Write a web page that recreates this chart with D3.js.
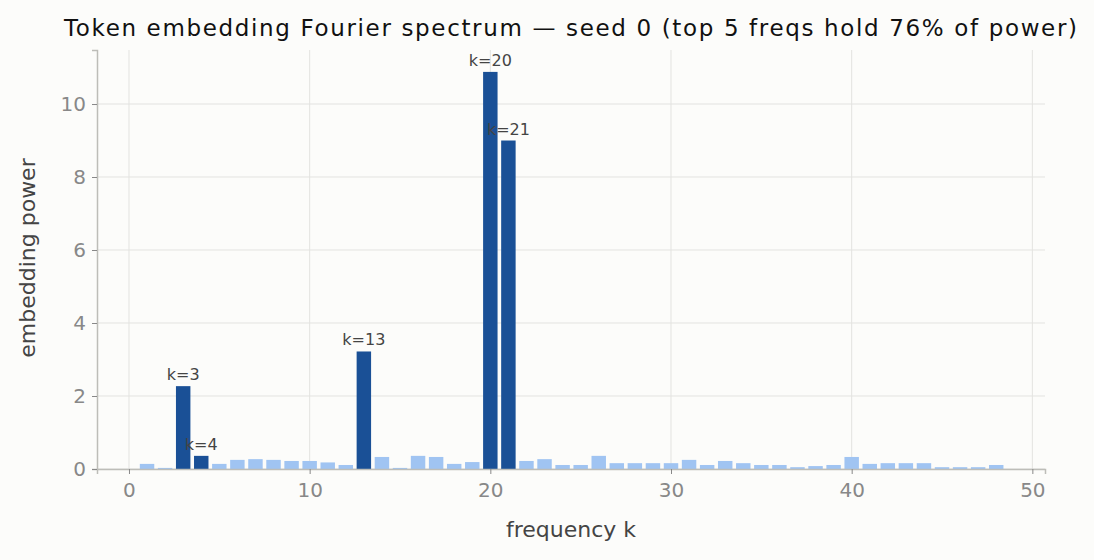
<!DOCTYPE html>
<html><head><meta charset="utf-8">
<script src="https://cdn.jsdelivr.net/npm/d3@7"></script>
<style>body{margin:0;background:#fcfcfa;font-family:"DejaVu Sans",sans-serif}</style>
</head><body><svg id="c" width="1094" height="560"></svg>
<script>
var freqs = d3.range(0, 50)
var power = [0, 0.14, 0.03, 2.27, 0.36, 0.14, 0.25, 0.27, 0.25, 0.22,
  0.22, 0.18, 0.11, 3.22, 0.33, 0.03, 0.36, 0.33, 0.14, 0.19,
  10.88, 9.0, 0.22, 0.27, 0.11, 0.11, 0.36, 0.16, 0.16, 0.16,
  0.16, 0.25, 0.11, 0.22, 0.16, 0.11, 0.11, 0.05, 0.08, 0.11,
  0.33, 0.14, 0.16, 0.16, 0.16, 0.05, 0.05, 0.05, 0.11, 0]
var topK = [20, 21, 13, 3, 4]
var xTicks = [0, 10, 20, 30, 40, 50]
var yTicks = [0, 2, 4, 6, 8, 10]

var svg = d3.select('#c')
var x = d3.scaleLinear().domain([-1.77, 50.7]).range([97, 1045])
var y = d3.scaleLinear().domain([0, 11.48]).range([469, 50])
var bw = x(0.8) - x(0)

// grid
svg.append('g').selectAll('line').data(xTicks).enter().append('line')
  .attr('x1', d => x(d)).attr('x2', d => x(d)).attr('y1', 50).attr('y2', 469)
  .attr('stroke', '#e3e3e0')
svg.append('g').selectAll('line').data(yTicks).enter().append('line')
  .attr('x1', 97).attr('x2', 1045).attr('y1', d => y(d)).attr('y2', d => y(d))
  .attr('stroke', '#e3e3e0')

svg.append('g').selectAll('rect').data(freqs).enter().append('rect')
  .attr('x', d => x(d) - bw / 2).attr('width', bw)
  .attr('y', d => y(power[d])).attr('height', d => y(0) - y(power[d]))
  .attr('fill', d => topK.includes(d) ? '#1a5096' : '#a0c4f2')

svg.append('g').selectAll('text').data(topK).enter().append('text')
  .attr('x', d => x(d)).attr('y', d => y(power[d]) - 6)
  .attr('text-anchor', 'middle').attr('font-size', 16).attr('fill', '#444')
  .text(d => 'k=' + d)

// axes
var xa = svg.append('g').attr('transform', 'translate(0,469)')
  .call(d3.axisBottom(x).tickValues(xTicks).tickSize(5).tickPadding(6))
var ya = svg.append('g').attr('transform', 'translate(97,0)')
  .call(d3.axisLeft(y).tickValues(yTicks).tickSize(5).tickPadding(6))
;[xa, ya].forEach(a => {
  a.select('.domain').attr('stroke', '#bdbdb8').attr('stroke-width', 1.5)
  a.selectAll('.tick line').attr('stroke', '#888')
  a.selectAll('.tick text').attr('font-size', 20).attr('fill', '#888').attr('font-family', 'DejaVu Sans')
})
xa.selectAll('.tick text').attr('dy', '0.85em')

svg.append('text').attr('x', 571).attr('y', 537).attr('text-anchor', 'middle')
  .attr('font-size', 22).attr('fill', '#444').text('frequency k')
svg.append('text').attr('transform', 'translate(35,258) rotate(-90)').attr('text-anchor', 'middle')
  .attr('font-size', 22).attr('fill', '#444').text('embedding power')
svg.append('text').attr('x', 64).attr('y', 36)
  .attr('font-size', 23).attr('fill', '#111')
  .attr('textLength', 1013).attr('lengthAdjust', 'spacing')
  .text('Token embedding Fourier spectrum — seed 0 (top 5 freqs hold 76% of power)')
</script></body></html>
